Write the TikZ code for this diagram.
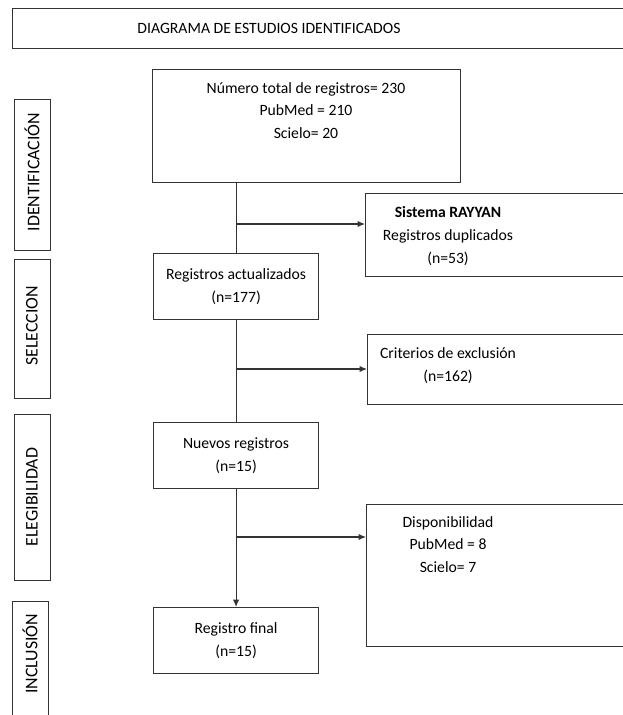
\documentclass[tikz,border=0pt]{standalone}
\usepackage{fontspec}
\setmainfont{Carlito}
\usetikzlibrary{arrows.meta}

\begin{document}
\begin{tikzpicture}[x=1pt, y=-1pt,
    box/.style={draw=black!80, line width=1.1pt, anchor=north west, inner sep=0pt},
    txt/.style={align=center, inner sep=0pt, font=\fontsize{15.7}{22.8}\selectfont},
    stage/.style={txt, rotate=90, font=\fontsize{17.8}{20}\selectfont},
    flow/.style={draw=black!80, line width=1.1pt},
    arrow/.style={flow, -{Latex[length=7.5pt,width=6.5pt]}}]
    \clip (0,0) rectangle (623,715);

    % titulo
    \node[box, minimum width=640, minimum height=40] (titulo) at (12,8) {};
    \node[txt] (titulo-t) at (269,28) {DIAGRAMA DE ESTUDIOS IDENTIFICADOS};

    % etapas
    \foreach \n/\x/\y/\h/\ty/\t in {ident/14/99/151/172/IDENTIFICACIÓN,
        selec/14/259/139/326/SELECCION,
        eleg/14/414/166/497/ELEGIBILIDAD,
        incl/12/601/130/654/INCLUSIÓN}
    {
        \node[box, minimum width=36, minimum height=\h] (\n) at (\x,\y) {};
        \node[stage] (\n-t) at (\x+18,\ty) {\t};
    }

    % columna central
    \node[box, minimum width=308, minimum height=113] (total) at (152,69) {};
    \node[txt, anchor=north] (total-t) at (306,82) {N\'umero total de registros= 230\\PubMed = 210\\Scielo= 20};
    \node[box, txt, minimum width=165, minimum height=66] (act) at (153,253) {Registros actualizados\\(n=177)};
    \node[box, txt, minimum width=165, minimum height=66] (nuevos) at (153,422) {Nuevos registros\\(n=15)};
    \node[box, txt, minimum width=165, minimum height=66] (final) at (153,607) {Registro final\\(n=15)};

    % columna derecha
    \node[box, minimum width=280, minimum height=83] (rayyan) at (365,193) {};
    \node[txt] (rayyan-t) at (448,236) {\textbf{Sistema RAYYAN}\\Registros duplicados\\(n=53)};
    \node[box, minimum width=280, minimum height=70] (excl) at (367,334) {};
    \node[txt] (excl-t) at (448,366) {Criterios de exclusi\'on\\(n=162)};
    \node[box, minimum width=280, minimum height=142] (disp) at (366,504) {};
    \node[txt, anchor=north] (disp-t) at (448,516) {Disponibilidad\\PubMed = 8\\Scielo= 7};

    % conectores
    \coordinate (b1) at (235.5,224);
    \coordinate (b2) at (235.5,369);
    \coordinate (b3) at (235.5,537);
    \draw[flow] (act.north |- total.south) -- (act.north);
    \draw[arrow] (b1) -- (b1 -| rayyan.west);
    \draw[flow] (act.south) -- (nuevos.north);
    \draw[arrow] (b2) -- (b2 -| excl.west);
    \draw[arrow] (nuevos.south) -- (final.north);
    \draw[arrow] (b3) -- (b3 -| disp.west);
\end{tikzpicture}
\end{document}
